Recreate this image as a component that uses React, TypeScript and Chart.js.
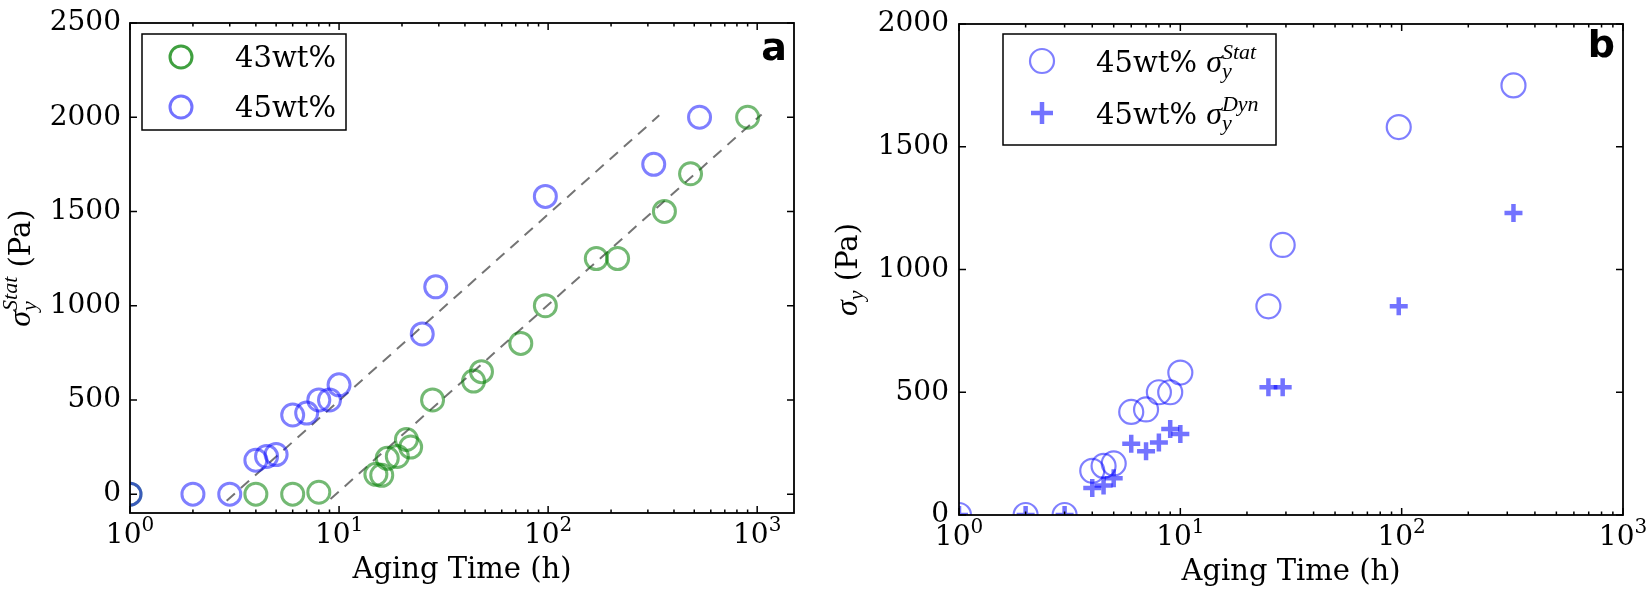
import React, { useEffect, useRef } from "react";
import { Chart, registerables } from "chart.js";

Chart.register(...registerables);

// ---------- data ----------
const X_MAJOR = [1, 10, 100, 1000];
const X_EXP = ["0", "1", "2", "3"];
const Y_TICKS_A = [0, 500, 1000, 1500, 2000, 2500];
const Y_TICKS_B = [0, 500, 1000, 1500, 2000];

// panel a
const T_43 = [1, 4, 6, 8, 15, 16, 17, 19, 21, 22, 28, 44, 48, 74, 97, 170, 215, 360, 480, 900];
const S_43 = [0, 0, 0, 10, 105, 100, 190, 200, 290, 250, 500, 600, 650, 800, 1000, 1250, 1250, 1500, 1700, 2000];
const T_45 = [1, 2, 3, 4, 4.5, 5, 6, 7, 8, 9, 10, 25, 29, 97, 320, 530];
const S_45 = [0, 0, 0, 180, 200, 210, 420, 430, 500, 500, 580, 850, 1100, 1580, 1750, 2000];
const FIT_45_T = [2.9, 340];
const FIT_45_S = [-35, 2010];
const FIT_43_T = [9.1, 1050];
const FIT_43_S = [-26, 2015];

// panel b
const T_STAT = [1, 2, 3, 4, 4.5, 5, 6, 7, 8, 9, 10, 25, 29, 97, 320];
const S_STAT = [0, 0, 0, 180, 200, 210, 420, 430, 500, 500, 580, 850, 1100, 1580, 1750];
const T_DYN = [1, 2, 3, 4, 4.5, 5, 6, 7, 8, 9, 10, 25, 29, 97, 320];
const S_DYN = [0, 0, 0, 110, 120, 150, 290, 260, 295, 350, 330, 520, 520, 850, 1230];

// ---------- styles ----------
const SERIF = "'DejaVu Serif', serif";
const GREEN = "rgba(0,128,0,0.55)";
const GREEN_LEG = "rgba(0,128,0,0.75)";
const BLUE = "rgba(0,0,255,0.5)";
const BLUE_LEG = "rgba(0,0,255,0.55)";
const DASH = "rgba(70,70,70,0.75)";
const TXT = 29;
const TICK = 28;

const fnt = (size: number, style = "") => `${style} ${size}px ${SERIF}`.trim();
const mathF = (size: number) => `italic ${size}px 'Liberation Serif', serif`;

type Run = { t: string; f: string; dy?: number; hold?: boolean };

function runsWidth(ctx: CanvasRenderingContext2D, runs: Run[]) {
  let w = 0;
  let held = 0;
  for (const r of runs) {
    ctx.font = r.f;
    const m = ctx.measureText(r.t).width;
    if (r.hold) held = Math.max(held, m);
    else {
      w += Math.max(m, held);
      held = 0;
    }
  }
  return w + held;
}

function drawRuns(ctx: CanvasRenderingContext2D, runs: Run[], x: number, y: number) {
  let cx = x;
  let held = 0;
  ctx.textAlign = "left";
  ctx.textBaseline = "alphabetic";
  for (const r of runs) {
    ctx.font = r.f;
    ctx.fillText(r.t, cx, y + (r.dy || 0));
    const m = ctx.measureText(r.t).width;
    if (r.hold) held = Math.max(held, m);
    else {
      cx += Math.max(m, held);
      held = 0;
    }
  }
}

const sigmaRuns = (sup: string | null): Run[] => {
  const r: Run[] = [{ t: "σ", f: mathF(32) }];
  if (sup) {
    r.push({ t: "y", f: mathF(22), dy: 6, hold: true });
    r.push({ t: sup, f: mathF(22), dy: -13 });
  } else {
    r.push({ t: "y", f: mathF(22), dy: 6 });
  }
  return r;
};

type LegendItem = {
  kind: "circle" | "cross";
  color: string;
  lw: number;
  r: number;
  mx: number;
  my: number;
  tx: number;
  ty: number;
  runs: Run[];
};

type DecorCfg = {
  yTicks: number[];
  yTitle: Run[];
  yTitleX: number;
  xTitleDy: number;
  xLabelDy: number;
  letter: string;
  letterDx: number;
  letterDy: number;
  box: [number, number, number, number];
  items: LegendItem[];
};

function makeDecor(cfg: DecorCfg) {
  return {
    id: "decor",
    afterDraw(chart: any) {
      const ctx: CanvasRenderingContext2D = chart.ctx;
      const a = chart.chartArea;
      const xs = chart.scales.x;
      const ys = chart.scales.y;
      ctx.save();

      // inward ticks on all four sides
      ctx.strokeStyle = "#000";
      ctx.lineWidth = 1.5;
      ctx.beginPath();
      for (const d of X_MAJOR) {
        for (let m = 1; m < 10; m++) {
          const v = d * m;
          if (v < xs.min || v > xs.max) continue;
          const px = xs.getPixelForValue(v);
          const L = m === 1 ? 7 : 3.5;
          ctx.moveTo(px, a.bottom);
          ctx.lineTo(px, a.bottom - L);
          ctx.moveTo(px, a.top);
          ctx.lineTo(px, a.top + L);
        }
      }
      for (const v of cfg.yTicks) {
        const py = ys.getPixelForValue(v);
        ctx.moveTo(a.left, py);
        ctx.lineTo(a.left + 7, py);
        ctx.moveTo(a.right, py);
        ctx.lineTo(a.right - 7, py);
      }
      ctx.stroke();

      // frame
      ctx.lineWidth = 1.8;
      ctx.strokeRect(a.left, a.top, a.right - a.left, a.bottom - a.top);

      // x tick labels 10^n
      ctx.fillStyle = "#000";
      xs.ticks.forEach((tk: any) => {
        const idx = X_MAJOR.indexOf(tk.value);
        if (idx < 0) return;
        const runs: Run[] = [
          { t: "10", f: fnt(TICK) },
          { t: X_EXP[idx], f: fnt(20), dy: -12 },
        ];
        const w = runsWidth(ctx, runs);
        const px = xs.getPixelForValue(tk.value);
        drawRuns(ctx, runs, px - w / 2, a.bottom + cfg.xLabelDy);
      });

      // x title
      ctx.font = fnt(TXT);
      ctx.textAlign = "center";
      ctx.textBaseline = "alphabetic";
      ctx.fillText("Aging Time (h)", (a.left + a.right) / 2, a.bottom + cfg.xTitleDy);

      // y title (rotated)
      ctx.save();
      ctx.translate(cfg.yTitleX, (a.top + a.bottom) / 2);
      ctx.rotate(-Math.PI / 2);
      const yw = runsWidth(ctx, cfg.yTitle);
      drawRuns(ctx, cfg.yTitle, -yw / 2, 0);
      ctx.restore();

      // panel letter
      ctx.font = "bold 38px 'DejaVu Sans', sans-serif";
      ctx.textAlign = "right";
      ctx.textBaseline = "alphabetic";
      ctx.fillText(cfg.letter, a.right - cfg.letterDx, a.top + cfg.letterDy);

      // legend
      const [bx0, by0, bx1, by1] = cfg.box;
      ctx.fillStyle = "#fff";
      ctx.fillRect(bx0, by0, bx1 - bx0, by1 - by0);
      ctx.strokeStyle = "#000";
      ctx.lineWidth = 1.5;
      ctx.strokeRect(bx0, by0, bx1 - bx0, by1 - by0);
      for (const it of cfg.items) {
        ctx.strokeStyle = it.color;
        ctx.lineWidth = it.lw;
        ctx.beginPath();
        if (it.kind === "circle") {
          ctx.arc(it.mx, it.my, it.r, 0, Math.PI * 2);
        } else {
          ctx.moveTo(it.mx - it.r, it.my);
          ctx.lineTo(it.mx + it.r, it.my);
          ctx.moveTo(it.mx, it.my - it.r);
          ctx.lineTo(it.mx, it.my + it.r);
        }
        ctx.stroke();
        ctx.fillStyle = "#000";
        drawRuns(ctx, it.runs, it.tx, it.ty);
      }
      ctx.restore();
    },
  };
}

const zip = (xs: number[], ys: number[]) => xs.map((x, i) => ({ x, y: ys[i] }));

function baseOptions(o: {
  top: number;
  right: number;
  xMax: number;
  xH: number;
  yMin: number;
  yMax: number;
  yTicks: number[];
  yW: number;
  pad: number;
}) {
  return {
    responsive: false,
    animation: false as const,
    events: [] as any[],
    layout: { padding: { top: o.top, right: o.right, left: 0, bottom: 0 } },
    plugins: { legend: { display: false }, tooltip: { enabled: false } },
    scales: {
      x: {
        type: "logarithmic" as const,
        min: 1,
        max: o.xMax,
        grid: { display: false, drawTicks: false, tickLength: 0 },
        border: { display: false },
        ticks: { display: false },
        afterBuildTicks: (s: any) => {
          s.ticks = X_MAJOR.filter((v) => v <= o.xMax).map((v) => ({ value: v, major: true }));
        },
        afterFit: (s: any) => {
          s.height = o.xH;
        },
      },
      y: {
        type: "linear" as const,
        min: o.yMin,
        max: o.yMax,
        grid: { display: false, drawTicks: false, tickLength: 0 },
        border: { display: false },
        ticks: {
          color: "#000",
          padding: o.pad,
          autoSkip: false,
          font: { family: SERIF, size: TICK, lineHeight: 1 },
          callback: (v: any) => String(v),
        },
        afterBuildTicks: (s: any) => {
          s.ticks = o.yTicks.map((v) => ({ value: v }));
        },
        afterFit: (s: any) => {
          s.width = o.yW;
        },
      },
    },
  };
}

const circleSet = (label: string, data: any[], color: string, r: number, lw: number) => ({
  label,
  data,
  showLine: false,
  pointStyle: "circle",
  pointRadius: r,
  pointBorderWidth: lw,
  pointBorderColor: color,
  pointBackgroundColor: "rgba(0,0,0,0)",
  borderColor: color,
  backgroundColor: "rgba(0,0,0,0)",
  clip: 0,
});

const lineSet = (label: string, data: any[]) => ({
  label,
  data,
  showLine: true,
  pointRadius: 0,
  borderColor: DASH,
  borderWidth: 2,
  borderDash: [11, 8],
  borderCapStyle: "butt",
  fill: false,
  clip: 0,
});

export default function App() {
  const refA = useRef<HTMLCanvasElement>(null);
  const refB = useRef<HTMLCanvasElement>(null);

  useEffect(() => {
    const chartA = new Chart(refA.current as HTMLCanvasElement, {
      type: "scatter",
      data: {
        datasets: [
          circleSet("45wt%", zip(T_45, S_45), BLUE, 11, 3),
          circleSet("43wt%", zip(T_43, S_43), GREEN, 11, 3),
          lineSet("fit 45wt%", zip(FIT_45_T, FIT_45_S)),
          lineSet("fit 43wt%", zip(FIT_43_T, FIT_43_S)),
        ] as any,
      },
      options: baseOptions({
        top: 15,
        right: 36,
        xMax: 1500,
        xH: 77,
        yMin: -100,
        yMax: 2500,
        yTicks: Y_TICKS_A,
        yW: 130,
        pad: 9,
      }) as any,
      plugins: [
        makeDecor({
          yTicks: Y_TICKS_A,
          yTitle: [...sigmaRuns("Stat"), { t: " (Pa)", f: fnt(TXT) }],
          yTitleX: 30,
          xTitleDy: 65,
          xLabelDy: 30,
          letter: "a",
          letterDx: 7,
          letterDy: 37,
          box: [142, 34, 346, 130],
          items: [
            { kind: "circle", color: GREEN_LEG, lw: 3, r: 11, mx: 181, my: 57, tx: 235, ty: 67, runs: [{ t: "43wt%", f: fnt(TXT) }] },
            { kind: "circle", color: BLUE_LEG, lw: 3, r: 11, mx: 181, my: 107, tx: 235, ty: 117, runs: [{ t: "45wt%", f: fnt(TXT) }] },
          ],
        }),
      ],
    });

    const chartB = new Chart(refB.current as HTMLCanvasElement, {
      type: "scatter",
      data: {
        datasets: [
          circleSet("45wt% σy Stat", zip(T_STAT, S_STAT), BLUE, 12, 2.2),
          {
            label: "45wt% σy Dyn",
            data: zip(T_DYN, S_DYN),
            showLine: false,
            pointStyle: "cross",
            pointRadius: 9,
            pointBorderWidth: 4.5,
            pointBorderColor: BLUE_LEG,
            borderColor: BLUE_LEG,
            clip: 0,
          },
        ] as any,
      },
      options: baseOptions({
        top: 17,
        right: 27,
        xMax: 1000,
        xH: 75,
        yMin: 0,
        yMax: 2000,
        yTicks: Y_TICKS_B,
        yW: 129,
        pad: 10,
      }) as any,
      plugins: [
        makeDecor({
          yTicks: Y_TICKS_B,
          yTitle: [...sigmaRuns(null), { t: " (Pa)", f: fnt(TXT) }],
          yTitleX: 27,
          xTitleDy: 65,
          xLabelDy: 30,
          letter: "b",
          letterDx: 8,
          letterDy: 33,
          box: [173, 34, 446, 145],
          items: [
            {
              kind: "circle",
              color: BLUE,
              lw: 2.2,
              r: 12,
              mx: 212,
              my: 61,
              tx: 266,
              ty: 72,
              runs: [{ t: "45wt% ", f: fnt(TXT) }, ...sigmaRuns("Stat")],
            },
            {
              kind: "cross",
              color: BLUE_LEG,
              lw: 4.5,
              r: 11,
              mx: 212,
              my: 113,
              tx: 266,
              ty: 124,
              runs: [{ t: "45wt% ", f: fnt(TXT) }, ...sigmaRuns("Dyn")],
            },
          ],
        }),
      ],
    });

    return () => {
      chartA.destroy();
      chartB.destroy();
    };
  }, []);

  return (
    <div style={{ position: "absolute", left: 0, top: 0, width: 1650, height: 590, background: "#fff" }}>
      <canvas ref={refA} width={830} height={590} style={{ position: "absolute", left: 0, top: 0 }} />
      <canvas ref={refB} width={820} height={590} style={{ position: "absolute", left: 830, top: 0 }} />
    </div>
  );
}
